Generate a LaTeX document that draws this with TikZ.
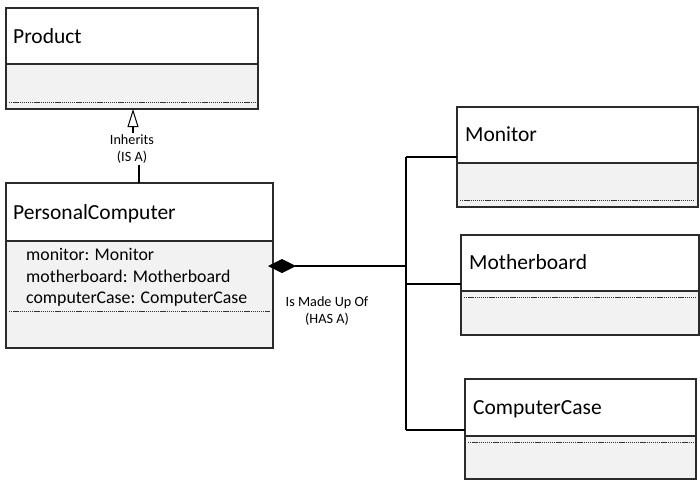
\documentclass[tikz,border=0pt]{standalone}
\usepackage{fontspec}
\setmainfont{Carlito}
\usetikzlibrary{arrows.meta,calc}
\definecolor{boxgray}{HTML}{F2F2F2}
\definecolor{edge}{HTML}{2B2B2B}
\tikzset{
  hdr/.style={draw=edge, line width=1.1pt, fill=white, anchor=north west, inner sep=0pt, outer sep=0pt},
  bdy/.style={draw=edge, line width=1.1pt, fill=boxgray, anchor=north west, inner sep=0pt, outer sep=0pt},
  ttl/.style={font=\fontsize{21.5}{25}\selectfont, anchor=base west, inner sep=0pt},
  attr/.style={font=\fontsize{17.8}{21}\selectfont, anchor=base west, inner sep=0pt},
  lbl/.style={font=\fontsize{14.2}{17.5}\selectfont, align=center, inner sep=1pt},
  sepline/.style={draw=black!80, line width=0.8pt, dash pattern=on 1.3pt off 0.8pt},
  conn/.style={draw=black, line width=1.1pt}
}
\begin{document}
\begin{tikzpicture}[x=1pt,y=-1pt]
\useasboundingbox (0,0) rectangle (700,482);
% Product
\node[hdr, minimum width=252pt, minimum height=56pt] (prodH) at (6,8) {};
\node[bdy, minimum width=252pt, minimum height=45pt] (prodB) at (6,64) {};
\draw[sepline] (9,102) -- (255,102);
\node[ttl] (prodT) at (13,43) {Product};
% PersonalComputer
\node[hdr, minimum width=267pt, minimum height=58pt] (pcH) at (6,183) {};
\node[bdy, minimum width=267pt, minimum height=107pt] (pcB) at (6,241) {};
\draw[sepline] (9,311) -- (270,311);
\node[ttl] (pcT) at (13,219) {PersonalComputer};
\node[attr] (a1) at (26,260) {monitor: Monitor};
\node[attr] (a2) at (26,282) {motherboard: Motherboard};
\node[attr] (a3) at (26,303.5) {computerCase: ComputerCase};
% Monitor
\node[hdr, minimum width=241pt, minimum height=56pt] (monH) at (457,107) {};
\node[bdy, minimum width=241pt, minimum height=44pt] (monB) at (457,163) {};
\draw[sepline] (460,200) -- (695,200);
\node[ttl] (monT) at (465,141) {Monitor};
% Motherboard
\node[hdr, minimum width=238pt, minimum height=56pt] (mbH) at (461,235) {};
\node[bdy, minimum width=238pt, minimum height=44pt] (mbB) at (461,291) {};
\draw[sepline] (464,297) -- (696,297);
\node[ttl] (mbT) at (469,269.5) {Motherboard};
% ComputerCase
\node[hdr, minimum width=231pt, minimum height=57pt] (ccH) at (465,379) {};
\node[bdy, minimum width=231pt, minimum height=43pt] (ccB) at (465,436) {};
\draw[sepline] (468,442) -- (693,442);
\node[ttl] (ccT) at (473,414) {ComputerCase};
% Inheritance
\node[lbl] (inh) at (132,149) {Inherits\\(IS A)};
\coordinate (pcTop) at (139,183);
\draw[conn] (pcTop) -- (pcTop |- inh.south);
\draw[conn, -{Triangle[open, length=18pt, width=11pt, line width=1pt]}] (inh.north -| 133,0) -- (133,109);
% Composition
\coordinate (jn) at (406,266);
\coordinate (bt) at (406,157);
\coordinate (bm) at (406,284);
\coordinate (bb) at (406,430);
\draw[conn] (bt) -- (bb);
\draw[conn, -{Diamond[length=28pt, width=14pt]}, shorten >=-5pt] (jn) -- (jn -| pcB.east);
\draw[conn] (bt) -- (bt -| monH.west);
\draw[conn] (bm) -- (bm -| mbH.west);
\draw[conn] (bb) -- (bb -| ccH.west);
\node[lbl] (has) at (327,311) {Is Made Up Of\\(HAS A)};
\end{tikzpicture}
\end{document}
